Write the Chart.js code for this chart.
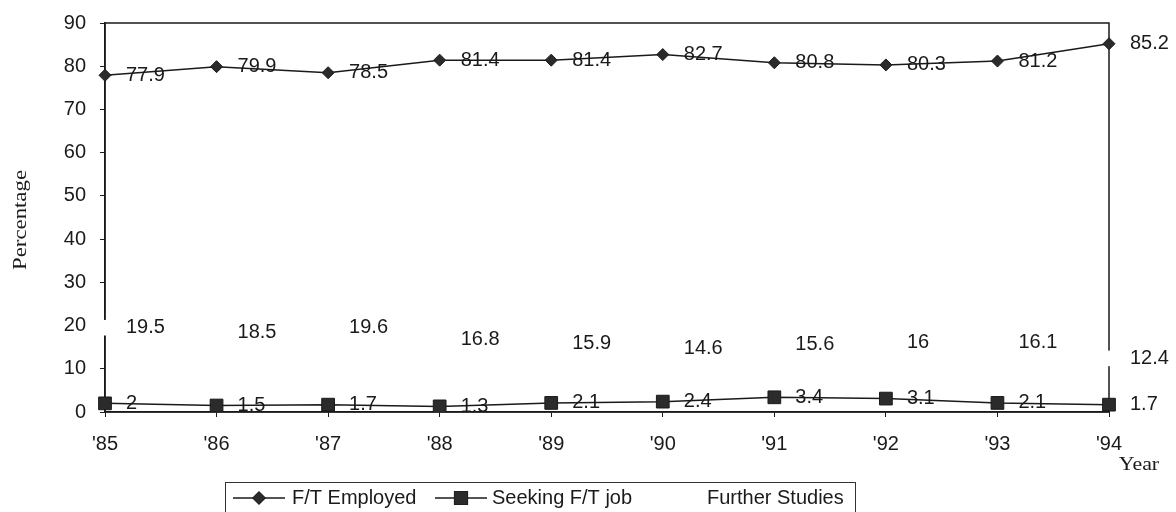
<!DOCTYPE html>
<html>
<head>
<meta charset="utf-8">
<script src="https://cdn.jsdelivr.net/npm/chart.js@4"></script>
<style>
  html, body { margin: 0; padding: 0; background: #fff; }
  #wrap { width: 1176px; height: 512px; }
</style>
</head>
<body>
<div id="wrap"><canvas id="gradChart" width="1176" height="512"></canvas></div>
<script>
var years = ["'85", "'86", "'87", "'88", "'89", "'90", "'91", "'92", "'93", "'94"];
var employed = [77.9, 79.9, 78.5, 81.4, 81.4, 82.7, 80.8, 80.3, 81.2, 85.2];
var seeking = [2, 1.5, 1.7, 1.3, 2.1, 2.4, 3.4, 3.1, 2.1, 1.7];
var further = [19.5, 18.5, 19.6, 16.8, 15.9, 14.6, 15.6, 16, 16.1, 12.4];
var seriesNames = ['F/T Employed', 'Seeking F/T job', 'Further Studies'];

var sans = '"Liberation Sans", Arial, sans-serif';
var serif = '"Liberation Serif", "Times New Roman", serif';
var ink = '#1a1a1a';

// value labels to the right of each point, box round the plot, titles, legend
var decorations = {
  id: 'decorations',
  beforeDatasetsDraw(chart) {
    const {ctx, chartArea: {top, bottom, left, right}} = chart;
    ctx.save();
    ctx.strokeStyle = ink;
    ctx.lineWidth = 1.5;
    ctx.strokeRect(left, top, right - left, bottom - top);
    ctx.restore();
  },
  afterDatasetsDraw(chart) {
    const {ctx} = chart;
    ctx.save();
    ctx.font = '20px ' + sans;
    ctx.fillStyle = ink;
    ctx.textAlign = 'left';
    ctx.textBaseline = 'middle';
    chart.data.datasets.forEach(function(ds, i) {
      chart.getDatasetMeta(i).data.forEach(function(pt, j) {
        ctx.fillText(String(ds.data[j]), pt.x + 21, pt.y);
      });
    });
    ctx.restore();
  },
  afterDraw(chart) {
    const {ctx} = chart;
    ctx.save();
    ctx.fillStyle = ink;

    // axis titles (the scan stretches them along their length)
    ctx.font = '19px ' + serif;
    ctx.textAlign = 'center';
    ctx.textBaseline = 'middle';
    ctx.save();
    ctx.translate(21, 220);
    ctx.rotate(-Math.PI / 2);
    ctx.scale(1.2, 1);
    ctx.fillText('Percentage', 0, 0);
    ctx.restore();
    ctx.save();
    ctx.translate(1139, 465);
    ctx.scale(1.15, 1);
    ctx.fillText('Year', 0, 0);
    ctx.restore();

    // legend box
    ctx.strokeStyle = '#333';
    ctx.lineWidth = 1;
    ctx.strokeRect(225.5, 482.5, 630, 40);

    ctx.font = '20px ' + sans;
    ctx.textAlign = 'left';
    var ly = 498;
    var marks = [
      {x0: 233, x1: 285, style: 'rectRot', r: 6},
      {x0: 435, x1: 487, style: 'rect', r: 9},
      null
    ];
    var textX = [292, 492, 707];
    marks.forEach(function(m, i) {
      if (m) {
        ctx.strokeStyle = ink;
        ctx.lineWidth = 1.5;
        ctx.beginPath();
        ctx.moveTo(m.x0, ly);
        ctx.lineTo(m.x1, ly);
        ctx.stroke();
        ctx.fillStyle = '#2b2b2b';
        Chart.helpers.drawPoint(ctx, {pointStyle: m.style, radius: m.r, borderWidth: 1}, (m.x0 + m.x1) / 2, ly);
        ctx.fill();
      }
      ctx.fillStyle = ink;
      ctx.fillText(seriesNames[i], textX[i], ly);
    });
    ctx.restore();
  }
};

var ctx = document.getElementById('gradChart').getContext('2d');
var gradChart = new Chart(ctx, {
  type: 'line',
  data: {
    labels: years,
    datasets: [
      {
        label: seriesNames[0],
        data: employed,
        borderColor: ink,
        borderWidth: 1.5,
        pointStyle: 'rectRot',
        pointRadius: 6,
        pointBackgroundColor: '#2b2b2b',
        pointBorderColor: ink,
        pointBorderWidth: 1,
        tension: 0
      },
      {
        label: seriesNames[1],
        data: seeking,
        borderColor: ink,
        borderWidth: 1.5,
        pointStyle: 'rect',
        pointRadius: 9,
        pointBackgroundColor: '#2b2b2b',
        pointBorderColor: ink,
        pointBorderWidth: 1,
        tension: 0
      },
      {
        label: seriesNames[2],
        data: further,
        showLine: false,
        pointStyle: 'rect',
        pointRadius: 11,
        pointBackgroundColor: '#fff',
        pointBorderColor: '#fff',
        pointBorderWidth: 0
      }
    ]
  },
  options: {
    responsive: false,
    animation: false,
    events: [],
    layout: { padding: { top: 23, right: 67, bottom: 0, left: 0 } },
    plugins: {
      legend: { display: false },
      tooltip: { enabled: false }
    },
    scales: {
      x: {
        offset: false,
        grid: { drawOnChartArea: false, drawTicks: true, tickLength: 5, color: ink, lineWidth: 1 },
        border: { display: true, color: ink, width: 1.5 },
        ticks: { color: ink, font: { family: sans, size: 20 }, padding: 15, maxRotation: 0, autoSkip: false },
        afterFit: function(scale) { scale.height = 100; }
      },
      y: {
        min: 0,
        max: 90,
        grid: { drawOnChartArea: false, drawTicks: true, tickLength: 5, color: ink, lineWidth: 1 },
        border: { display: true, color: ink, width: 1.5 },
        ticks: { stepSize: 10, color: ink, font: { family: sans, size: 20 }, padding: 14 },
        afterFit: function(scale) {
          scale.width = 105;
          scale.paddingTop = 0;
          scale.paddingBottom = 0;
        }
      }
    }
  },
  plugins: [decorations]
});
</script>
</body>
</html>
